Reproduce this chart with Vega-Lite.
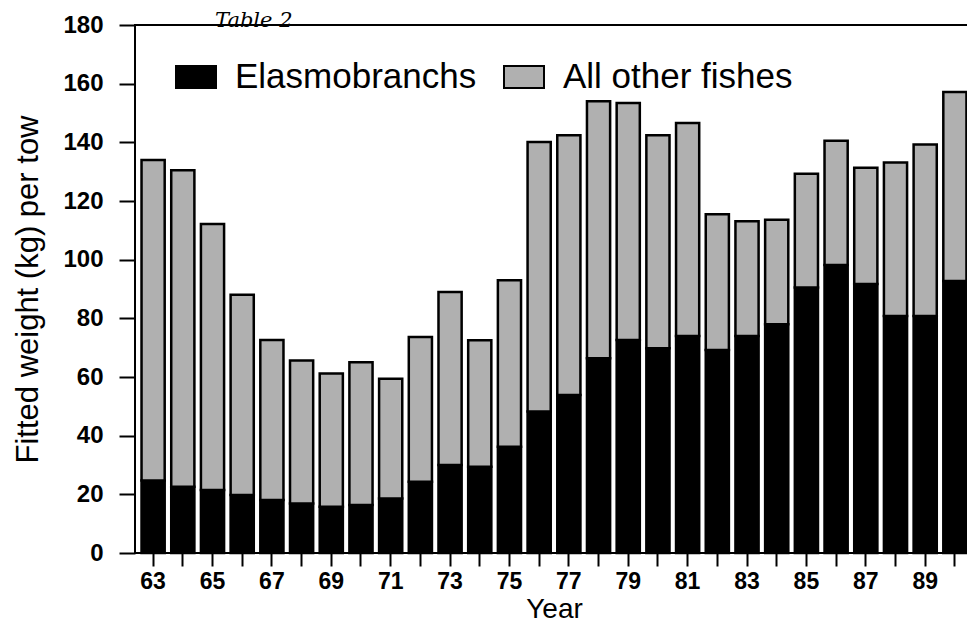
{
  "$schema": "https://vega.github.io/schema/vega-lite/v6.json",
  "width": 838,
  "height": 528,
  "autosize": {"type": "none"},
  "padding": {"left": 135, "top": 25, "right": 0, "bottom": 79},
  "background": "white",
  "config": {"view": {"stroke": "black", "strokeWidth": 2}, "font": "Liberation Sans"},
  "title": {"text": "Table 2", "anchor": "start", "frame": "group", "dx": 80, "offset": -18, "fontSize": 21, "font": "DejaVu Serif", "fontStyle": "italic", "fontWeight": "normal", "color": "black"},
  "data": {"values": [
    {"year": 63, "group": "Elasmobranchs", "weight": 24.7}, {"year": 63, "group": "All other fishes", "weight": 109.3},
    {"year": 64, "group": "Elasmobranchs", "weight": 22.6}, {"year": 64, "group": "All other fishes", "weight": 107.9},
    {"year": 65, "group": "Elasmobranchs", "weight": 21.5}, {"year": 65, "group": "All other fishes", "weight": 90.7},
    {"year": 66, "group": "Elasmobranchs", "weight": 19.8}, {"year": 66, "group": "All other fishes", "weight": 68.2},
    {"year": 67, "group": "Elasmobranchs", "weight": 18.1}, {"year": 67, "group": "All other fishes", "weight": 54.5},
    {"year": 68, "group": "Elasmobranchs", "weight": 16.9}, {"year": 68, "group": "All other fishes", "weight": 48.7},
    {"year": 69, "group": "Elasmobranchs", "weight": 15.8}, {"year": 69, "group": "All other fishes", "weight": 45.4},
    {"year": 70, "group": "Elasmobranchs", "weight": 16.4}, {"year": 70, "group": "All other fishes", "weight": 48.6},
    {"year": 71, "group": "Elasmobranchs", "weight": 18.6}, {"year": 71, "group": "All other fishes", "weight": 40.8},
    {"year": 72, "group": "Elasmobranchs", "weight": 24.3}, {"year": 72, "group": "All other fishes", "weight": 49.3},
    {"year": 73, "group": "Elasmobranchs", "weight": 30.0}, {"year": 73, "group": "All other fishes", "weight": 59.0},
    {"year": 74, "group": "Elasmobranchs", "weight": 29.4}, {"year": 74, "group": "All other fishes", "weight": 43.1},
    {"year": 75, "group": "Elasmobranchs", "weight": 36.2}, {"year": 75, "group": "All other fishes", "weight": 56.8},
    {"year": 76, "group": "Elasmobranchs", "weight": 48.2}, {"year": 76, "group": "All other fishes", "weight": 91.9},
    {"year": 77, "group": "Elasmobranchs", "weight": 53.9}, {"year": 77, "group": "All other fishes", "weight": 88.5},
    {"year": 78, "group": "Elasmobranchs", "weight": 66.4}, {"year": 78, "group": "All other fishes", "weight": 87.6},
    {"year": 79, "group": "Elasmobranchs", "weight": 72.6}, {"year": 79, "group": "All other fishes", "weight": 80.8},
    {"year": 80, "group": "Elasmobranchs", "weight": 69.8}, {"year": 80, "group": "All other fishes", "weight": 72.6},
    {"year": 81, "group": "Elasmobranchs", "weight": 74.0}, {"year": 81, "group": "All other fishes", "weight": 72.6},
    {"year": 82, "group": "Elasmobranchs", "weight": 69.2}, {"year": 82, "group": "All other fishes", "weight": 46.3},
    {"year": 83, "group": "Elasmobranchs", "weight": 74.0}, {"year": 83, "group": "All other fishes", "weight": 39.1},
    {"year": 84, "group": "Elasmobranchs", "weight": 78.0}, {"year": 84, "group": "All other fishes", "weight": 35.6},
    {"year": 85, "group": "Elasmobranchs", "weight": 90.5}, {"year": 85, "group": "All other fishes", "weight": 38.8},
    {"year": 86, "group": "Elasmobranchs", "weight": 98.2}, {"year": 86, "group": "All other fishes", "weight": 42.3},
    {"year": 87, "group": "Elasmobranchs", "weight": 91.7}, {"year": 87, "group": "All other fishes", "weight": 39.6},
    {"year": 88, "group": "Elasmobranchs", "weight": 80.8}, {"year": 88, "group": "All other fishes", "weight": 52.3},
    {"year": 89, "group": "Elasmobranchs", "weight": 80.8}, {"year": 89, "group": "All other fishes", "weight": 58.5},
    {"year": 90, "group": "Elasmobranchs", "weight": 92.7}, {"year": 90, "group": "All other fishes", "weight": 64.5}
  ]},
  "mark": {"type": "bar", "stroke": "black", "strokeWidth": 2.5},
  "encoding": {
    "x": {
      "field": "year", "type": "ordinal",
      "scale": {"paddingInner": 0.22, "paddingOuter": 0.22},
      "axis": {
        "labelAngle": 0, "labelExpr": "datum.value % 2 == 1 ? datum.label : ''",
        "domain": false, "ticks": true, "tickSize": 13, "tickWidth": 2, "tickColor": "black",
        "labelFontSize": 23, "labelFontWeight": "bold", "labelColor": "black", "labelPadding": 4,
        "title": "Year", "titleFontSize": 28, "titleFontWeight": "normal", "titleColor": "black", "titlePadding": 2
      }
    },
    "y": {
      "field": "weight", "type": "quantitative", "stack": "zero",
      "scale": {"domain": [0, 180], "nice": false},
      "axis": {
        "values": [0, 20, 40, 60, 80, 100, 120, 140, 160, 180],
        "domain": false, "grid": false, "tickSize": 16, "tickWidth": 2, "tickColor": "black",
        "labelFontSize": 24, "labelFontWeight": "bold", "labelColor": "black", "labelPadding": 16,
        "title": "Fitted weight (kg) per tow", "titleFontSize": 31, "titleFontWeight": "normal", "titleColor": "black", "titlePadding": 18
      }
    },
    "color": {
      "field": "group", "type": "nominal",
      "scale": {"domain": ["Elasmobranchs", "All other fishes"], "range": ["#000000", "#b0b0b0"]},
      "legend": {
        "orient": "none", "legendX": 40, "legendY": 31, "direction": "horizontal", "title": null,
        "symbolType": "M-1,-0.55H1V0.55H-1Z", "symbolSize": 1600, "symbolStrokeColor": "black", "symbolStrokeWidth": 2,
        "labelFontSize": 35, "labelColor": "black", "labelFontWeight": "normal", "labelLimit": 500,
        "columnPadding": 23, "labelOffset": 18
      }
    },
    "order": {"field": "group", "sort": "descending"}
  }
}
